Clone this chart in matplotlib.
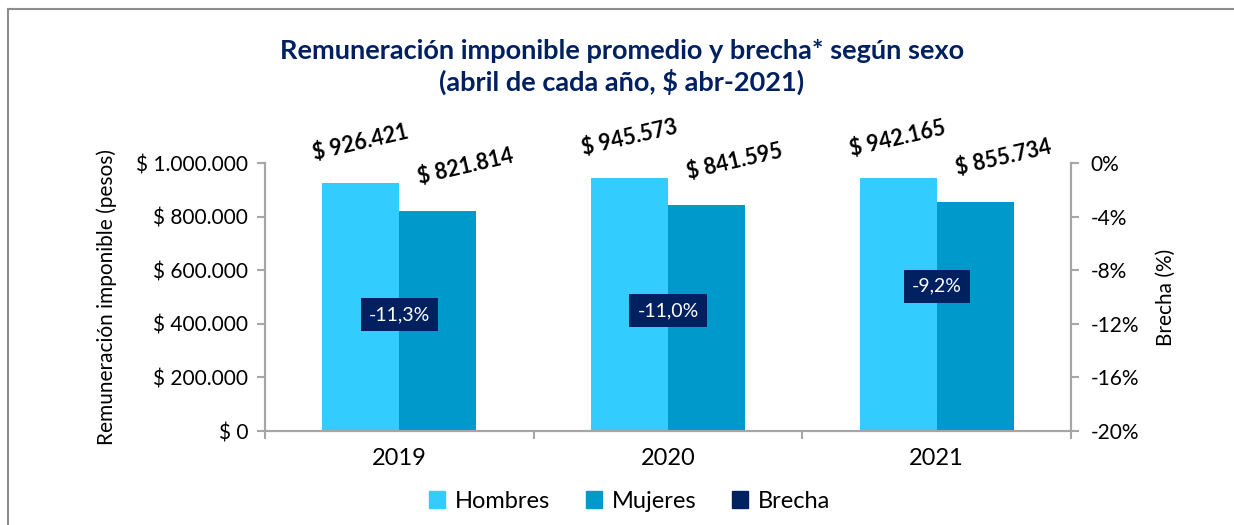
import matplotlib.pyplot as plt
import numpy as np
from matplotlib.lines import Line2D
from matplotlib.patches import Patch

plt.rcParams['font.family'] = ['Lato', 'DejaVu Sans']

# data
years = ['2019', '2020', '2021']
hombres = [926421, 945573, 942165]
mujeres = [821814, 841595, 855734]
brecha = [-11.3, -11.0, -9.2]

c_h = '#33CCFF'
c_m = '#0099CC'
c_b = '#002060'
grey = '#A6A6A6'


def pesos(v):
    return '$ ' + f'{v:,.0f}'.replace(',', '.')


W, H = 1234, 525
fig = plt.figure(figsize=(W / 100, H / 100), dpi=100)
ax = fig.add_axes([265 / W, (H - 431) / H, (1071 - 265) / W, (431 - 163) / H])

x = np.arange(len(years))
bw = 0.287
ax.bar(x - bw, hombres, bw, align='edge', color=c_h, label='Hombres')
ax.bar(x, mujeres, bw, align='edge', color=c_m, label='Mujeres')

# value labels, tilted like the original
for i in range(len(years)):
    ax.annotate(pesos(hombres[i]), (x[i] - bw / 2, hombres[i]), xytext=(0, 40),
                textcoords='offset pixels', ha='center', va='center',
                rotation=13, fontsize=15.5, fontweight='bold')
    ax.annotate(pesos(mujeres[i]), (x[i] + bw / 2, mujeres[i]), xytext=(28, 44),
                textcoords='offset pixels', ha='center', va='center',
                rotation=13, fontsize=15.5, fontweight='bold')

ax.set_xlim(-0.5, len(years) - 0.5)
ax.set_ylim(0, 1000000)
ax.set_yticks(np.arange(0, 1000001, 200000))
ax.set_yticklabels([pesos(v) for v in ax.get_yticks()])
ax.set_xticks(np.arange(-0.5, len(years), 1))
ax.set_xticklabels([])
ax.set_xticks(x, minor=True)
ax.set_xticklabels(years, minor=True, fontsize=17)
ax.tick_params(axis='x', which='minor', length=0, pad=12)
ax.tick_params(axis='x', which='major', length=6, color=grey, width=1.5)
ax.tick_params(axis='y', length=6, color=grey, width=1.5, labelsize=15, pad=6)
ax.set_ylabel('Remuneración imponible (pesos)', fontsize=15, labelpad=14)
for s in ['left', 'bottom', 'right']:
    ax.spines[s].set_color(grey)
    ax.spines[s].set_linewidth(1.5)
ax.spines['top'].set_visible(False)

# secondary axis for the gap
ax2 = ax.twinx()
ax2.set_ylim(-20, 0)
ax2.set_yticks(np.arange(-20, 1, 4))
ax2.set_yticklabels([f'{v:.0f}%' for v in ax2.get_yticks()])
ax2.tick_params(axis='y', length=6, color=grey, width=1.5, labelsize=15, pad=8)
ax2.set_ylabel('Brecha (%)', fontsize=15, labelpad=12)
for s in ['left', 'bottom', 'right']:
    ax2.spines[s].set_color(grey)
    ax2.spines[s].set_linewidth(1.5)
ax2.spines['top'].set_visible(False)
ax2.plot(x, brecha, linestyle='none', marker='none')
for i, b in enumerate(brecha):
    ax2.text(x[i], b, f'{b:.1f}%'.replace('.', ','), ha='center', va='center',
             color='white', fontsize=14,
             bbox=dict(boxstyle='square,pad=0.42', fc=c_b, ec='none'))

fig.text(0.504, 1 - 67 / H, 'Remuneración imponible promedio y brecha* según sexo\n(abril de cada año, $ abr-2021)',
         ha='center', va='center', fontsize=19.5, fontweight='bold', color=c_b,
         linespacing=1.25)

handles = [Patch(color=c_h), Patch(color=c_m), Patch(color=c_b)]
fig.legend(handles, ['Hombres', 'Mujeres', 'Brecha'], loc='center',
           bbox_to_anchor=(0.51, 0.045), ncol=3, frameon=False, fontsize=17,
           handlelength=0.7, handleheight=0.7, handletextpad=0.4,
           columnspacing=1.5)

# outer frame (only top and left visible in the original crop)
fig.add_artist(Line2D([8 / W, 8 / W], [0, 1 - 9 / H], color='#8C8C8C', lw=1.5))
fig.add_artist(Line2D([8 / W, 1], [1 - 9 / H, 1 - 9 / H], color='#8C8C8C', lw=1.5))

fig.savefig('out.png', dpi=100)
